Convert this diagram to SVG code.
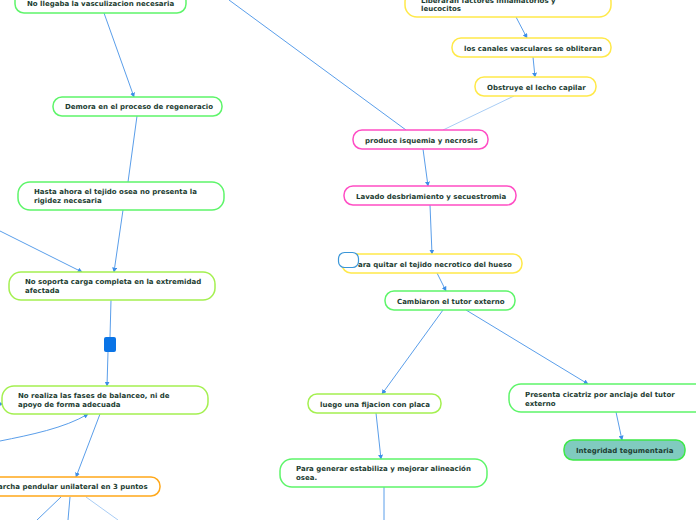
<svg xmlns="http://www.w3.org/2000/svg" width="696" height="520" viewBox="0 0 696 520">
<defs>
<marker id="ah" viewBox="0 0 8 8" refX="7" refY="4" markerWidth="5" markerHeight="5" orient="auto" markerUnits="userSpaceOnUse">
<path d="M0,0 L8,4 L0,8 Z" fill="#3d8ee8"/>
</marker>
<style>
.n{fill:#fff;stroke-width:1.5}
.g{stroke:#5ef56a}
.yg{stroke:#a4f050}
.y{stroke:#ffe94a}
.m{stroke:#ff4dc4}
.o{stroke:#ffa81a}
.t{font-family:"DejaVu Sans",Verdana,sans-serif;font-weight:bold;font-size:7px;fill:#1d3d32}
.c{fill:none;stroke:#5a9eea;stroke-width:1}
.cl{fill:none;stroke:#a9cdf5;stroke-width:1}
</style>
</defs>
<rect width="696" height="520" fill="#fff"/>
<g id="connectors">
<line class="c" x1="104" y1="13" x2="134" y2="97" marker-end="url(#ah)"/>
<line class="c" x1="137" y1="116" x2="128" y2="182"/>
<line class="c" x1="123" y1="210" x2="114" y2="272" marker-end="url(#ah)"/>
<line class="c" x1="0" y1="231" x2="82" y2="272" marker-end="url(#ah)"/>
<line class="c" x1="111" y1="300" x2="110" y2="337"/>
<line class="c" x1="108" y1="352" x2="107" y2="386" marker-end="url(#ah)"/>
<path class="c" d="M0,441 C30,435 65,428 88,414" marker-end="url(#ah)"/>
<line class="c" x1="-6" y1="404" x2="3" y2="404" marker-end="url(#ah)"/>
<line class="c" x1="100" y1="414" x2="76" y2="477" marker-end="url(#ah)"/>
<line class="c" x1="61" y1="497" x2="37" y2="520"/>
<line class="c" x1="70" y1="497" x2="68" y2="520"/>
<line class="cl" x1="86" y1="497" x2="118" y2="520"/>
<line class="c" x1="229" y1="0" x2="406" y2="130"/>
<line class="c" x1="516" y1="17" x2="527" y2="38" marker-end="url(#ah)"/>
<line class="c" x1="533" y1="57" x2="535" y2="77" marker-end="url(#ah)"/>
<line class="cl" x1="514" y1="96" x2="443" y2="130"/>
<line class="c" x1="423" y1="149" x2="428" y2="186" marker-end="url(#ah)"/>
<line class="c" x1="430" y1="205" x2="432" y2="254" marker-end="url(#ah)"/>
<line class="c" x1="437" y1="273" x2="446" y2="291" marker-end="url(#ah)"/>
<line class="c" x1="443" y1="310" x2="382" y2="394" marker-end="url(#ah)"/>
<line class="c" x1="466" y1="310" x2="588" y2="384" marker-end="url(#ah)"/>
<line class="c" x1="376" y1="413" x2="381" y2="459" marker-end="url(#ah)"/>
<line class="c" x1="384" y1="487" x2="384" y2="520"/>
<line class="c" x1="616" y1="412" x2="622" y2="440" marker-end="url(#ah)"/>
</g>
<g id="n1"><rect class="n g" x="15" y="-8" width="171" height="21" rx="9"/><text class="t" x="27" y="6">No llegaba la  vasculizacion necesaria</text></g>
<g id="n2"><rect class="n g" x="53" y="97" width="169" height="19" rx="9"/><text class="t" x="65" y="109">Demora en el proceso de regeneracio</text></g>
<g id="n3"><rect class="n g" x="18" y="182" width="206" height="28" rx="12"/><text class="t" x="34" y="194">Hasta ahora el tejido osea no presenta la</text><text class="t" x="34" y="203">rigidez necesaria</text></g>
<g id="n4"><rect class="n yg" x="9" y="272" width="206" height="28" rx="12"/><text class="t" x="25" y="284">No soporta carga completa en la extremidad</text><text class="t" x="25" y="293">afectada</text></g>
<g id="n5"><rect x="104" y="337" width="12" height="15" rx="2" fill="#0a74e6"/></g>
<g id="n6"><rect class="n yg" x="2" y="386" width="206" height="28" rx="12"/><text class="t" x="18" y="398">No realiza las fases de balanceo, ni de</text><text class="t" x="18" y="407">apoyo de forma adecuada</text></g>
<g id="n7"><rect class="n o" x="-30" y="477" width="190" height="19" rx="9"/><text class="t" x="-9" y="489">Marcha pendular unilateral en 3 puntos</text></g>
<g id="n8"><rect class="n y" x="405" y="-10" width="206" height="27" rx="12"/><text class="t" x="421" y="3">Liberaran factores inflamatorios y</text><text class="t" x="421" y="11">leucocitos</text></g>
<g id="n9"><rect class="n y" x="452" y="38" width="159" height="19" rx="9"/><text class="t" x="464" y="51">los canales vasculares se obliteran</text></g>
<g id="n10"><rect class="n y" x="475" y="77" width="121" height="19" rx="9"/><text class="t" x="487" y="90">Obstruye el lecho capilar</text></g>
<g id="n11"><rect class="n m" x="353" y="130" width="135" height="19" rx="9"/><text class="t" x="365" y="143">produce isquemia y necrosis</text></g>
<g id="n12"><rect class="n m" x="344" y="186" width="172" height="19" rx="9"/><text class="t" x="356" y="199">Lavado desbriamiento y secuestromia</text></g>
<g id="n13"><rect class="n y" x="342" y="254" width="180" height="19" rx="9"/><text class="t" x="353" y="267">Para quitar el tejido necrotico del hueso</text><rect x="338.5" y="252.5" width="20" height="15" rx="6" fill="#fff" stroke="#3a96d8" stroke-width="1.2"/></g>
<g id="n14"><rect class="n g" x="385" y="291" width="130" height="19" rx="9"/><text class="t" x="397" y="304">Cambiaron el tutor externo</text></g>
<g id="n15"><rect class="n yg" x="308" y="394" width="133" height="19" rx="9"/><text class="t" x="320" y="407">luego una fijacion con placa</text></g>
<g id="n16"><rect class="n g" x="509" y="384" width="210" height="28" rx="12"/><text class="t" x="525" y="397">Presenta cicatriz por anclaje del tutor</text><text class="t" x="525" y="406">externo</text></g>
<g id="n17"><rect x="564" y="440" width="121" height="20" rx="9" fill="#80cbbf" stroke="#3ee848" stroke-width="1.5"/><text class="t" x="576" y="453">Integridad tegumentaria</text></g>
<g id="n18"><rect class="n g" x="280" y="459" width="207" height="28" rx="12"/><text class="t" x="296" y="471">Para generar estabiliza y mejorar alineación</text><text class="t" x="296" y="480">osea.</text></g>
</svg>
